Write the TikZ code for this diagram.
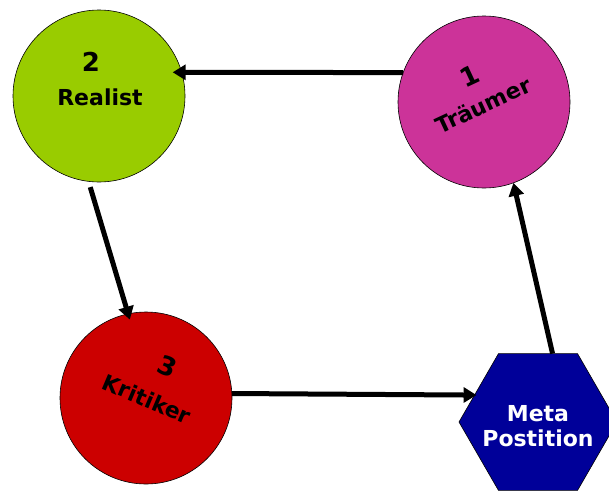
\documentclass[tikz,border=0pt]{standalone}
\usepackage{fontspec}
\setmainfont{DejaVu Sans}
\usetikzlibrary{arrows.meta,shapes.geometric}

\definecolor{realgreen}{HTML}{99CC00}
\definecolor{dreampink}{HTML}{CC3399}
\definecolor{critred}{HTML}{CC0000}
\definecolor{metablue}{HTML}{000099}

\begin{document}
\begin{tikzpicture}[x=1pt,y=-1pt,
    >={Triangle[length=13pt,width=15pt]},
    phase/.style={circle,draw=black,line width=0.6pt,minimum size=172pt,
      inner sep=0pt,outer sep=0pt},
    hexbox/.style={regular polygon,regular polygon sides=6,
      draw=black,line width=0.6pt,fill=metablue,minimum size=158pt,
      inner sep=0pt,outer sep=0pt},
    num/.style={font=\bfseries\fontsize{26}{26}\selectfont},
    lbl/.style={font=\bfseries\fontsize{22}{25}\selectfont,align=center},
    pfeil/.style={->,line width=5pt}]

  \clip (0,0) rectangle (609,490);

  \node[phase,fill=realgreen] (realist) at (99,96) {};
  \node[phase,fill=dreampink] (traeumer) at (484,102) {};
  \node[phase,fill=critred] (kritiker) at (146,398) {};
  \node[hexbox] (meta) at (538,422) {};

  % texts
  \node[num] (realist-n) at (91,62) {2};
  \node[lbl] (realist-t) at (100,97) {Realist};
  \node[num,rotate=25] (traeumer-n) at (470,76) {1};
  \node[lbl,rotate=25] (traeumer-t) at (483,105) {Träumer};
  \node[num,rotate=-23] (kritiker-n) at (168,366) {3};
  \node[lbl,rotate=-23] (kritiker-t) at (147,399) {Kritiker};
  \node[lbl,text=white] (meta-t) at (538,426) {Meta\\Postition};

  \draw[pfeil,shorten >=-9pt] (traeumer.160) -- (realist.16);
  \draw[pfeil,shorten <=6pt,shorten >=-6pt] (realist.263) -- (kritiker.102);
  \draw[pfeil,shorten >=-2pt] (kritiker.3) -- (meta.157);
  \draw[pfeil] (meta.78) -- (traeumer.290);

\end{tikzpicture}
\end{document}
